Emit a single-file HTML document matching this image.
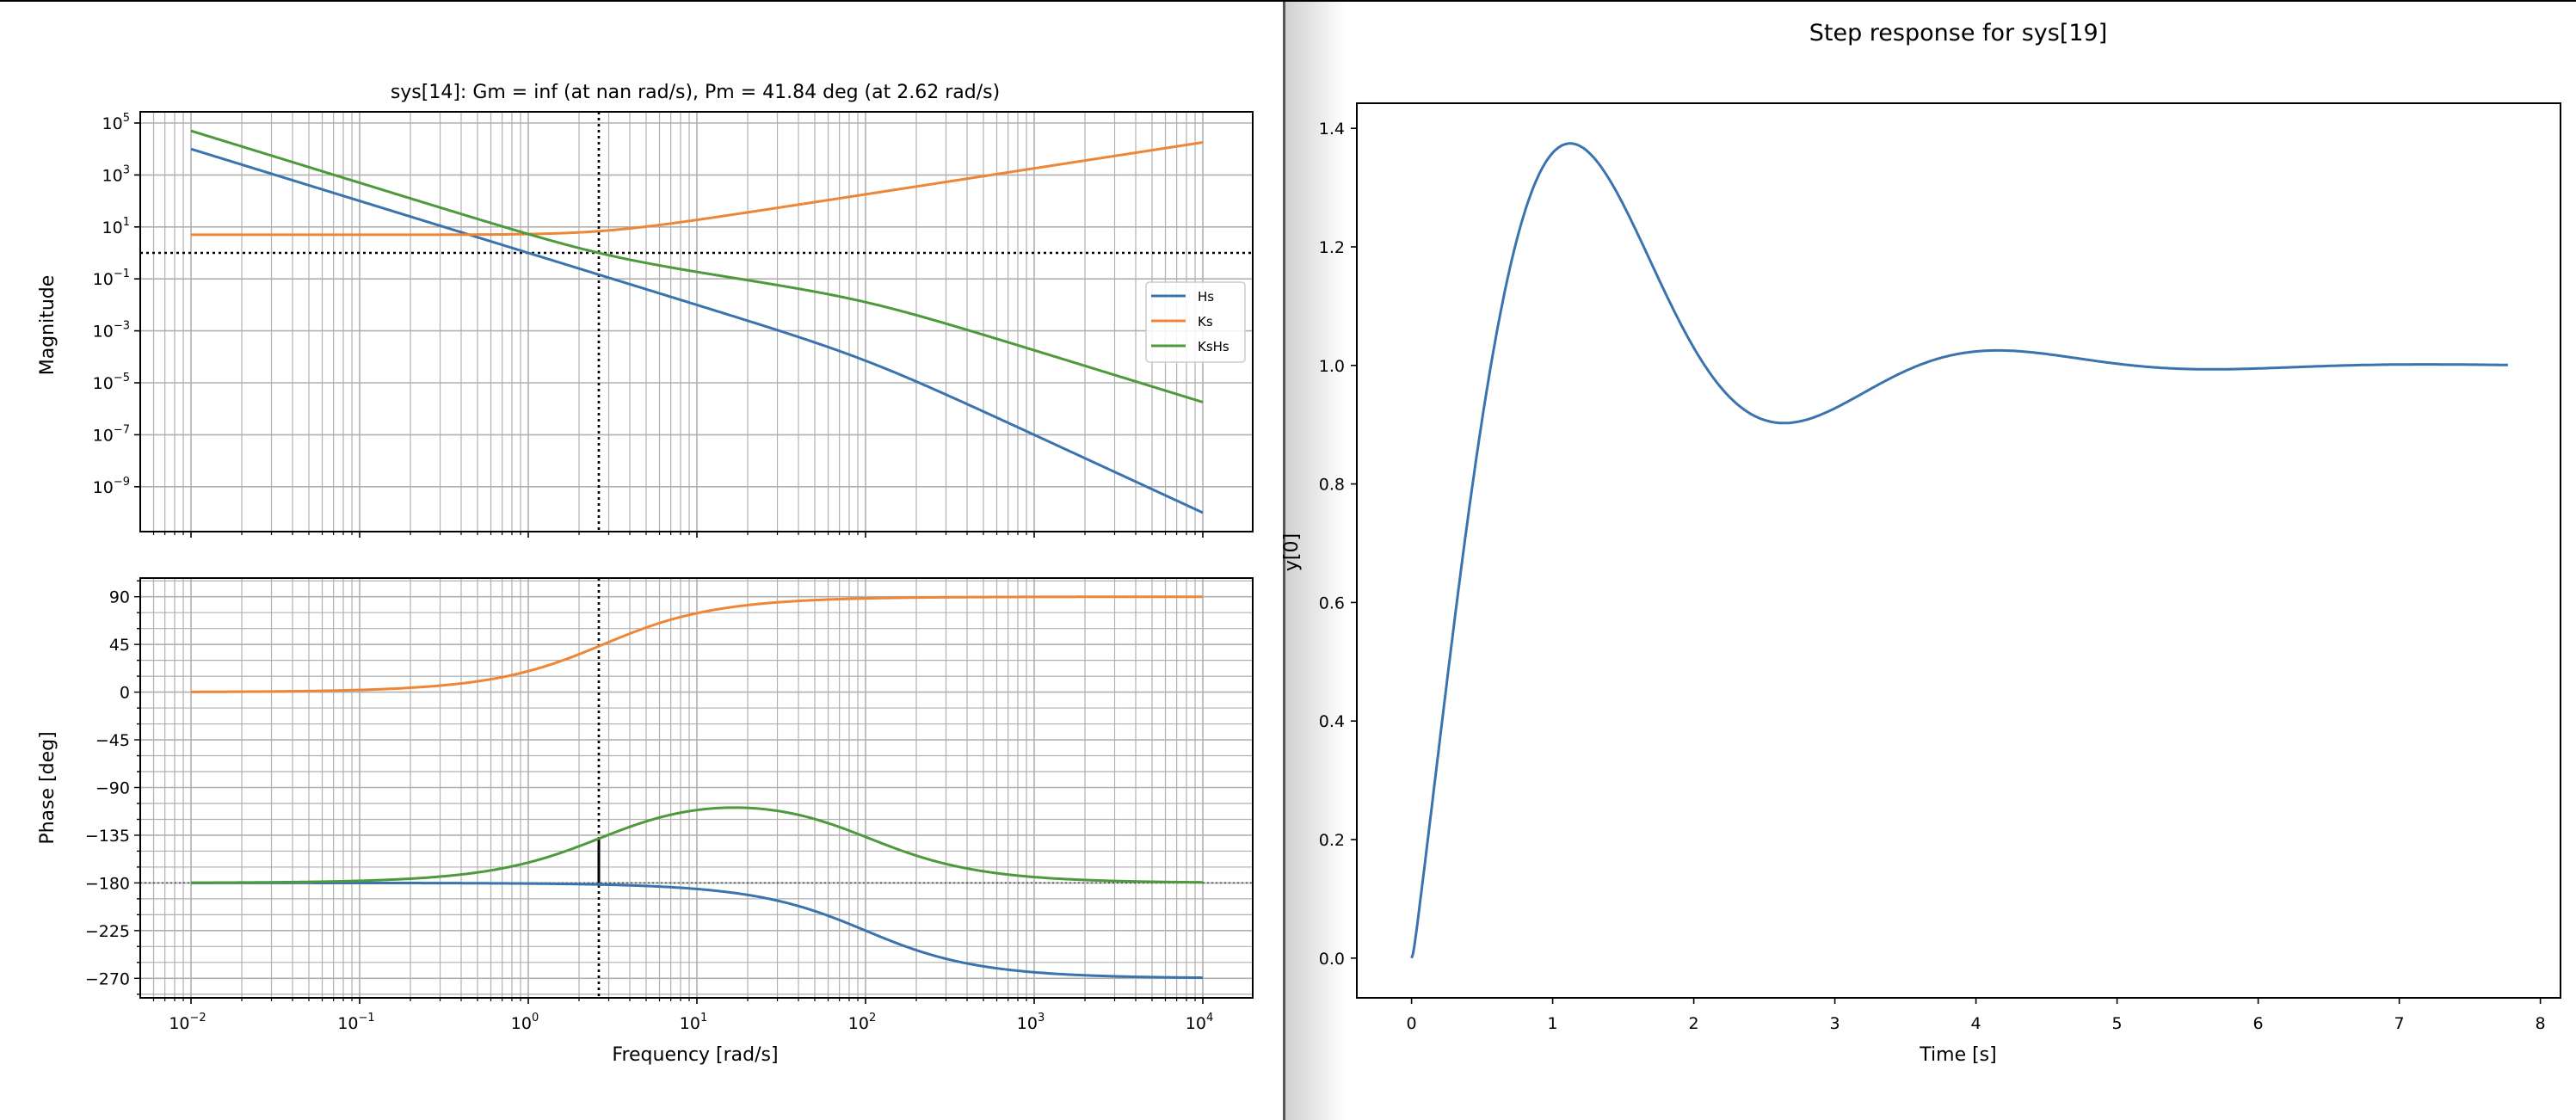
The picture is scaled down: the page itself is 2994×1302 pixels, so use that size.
<!DOCTYPE html>
<html><head><meta charset="utf-8">
<style>
html,body{margin:0;padding:0;background:#fff;}
svg{display:block;}
text{font-family:"DejaVu Sans","Liberation Sans",sans-serif;fill:#000;}
</style></head>
<body>
<svg id="s" width="2994" height="1302" viewBox="0 0 2994 1302" xmlns="http://www.w3.org/2000/svg">
<defs>
<linearGradient id="sh" x1="0" x2="1" y1="0" y2="0">
<stop offset="0" stop-color="#d0d0d0"/><stop offset="1" stop-color="#ffffff"/>
</linearGradient>
<clipPath id="cm"><rect x="163" y="130" width="1293" height="488"/></clipPath>
<clipPath id="cp"><rect x="163" y="672" width="1293" height="488"/></clipPath>
<clipPath id="cs"><rect x="1577" y="120" width="1399" height="1040"/></clipPath>
</defs>
<rect x="1494" y="0" width="70" height="1302" fill="url(#sh)"/>
<rect x="1491" y="0" width="3" height="1302" fill="#555"/>
<rect x="0" y="0" width="2994" height="2" fill="#000"/>
<g id="g"></g>
<text x="808" y="114" font-size="22" text-anchor="middle">sys[14]: Gm = inf (at nan rad/s), Pm = 41.84 deg (at 2.62 rad/s)</text>
<text x="2276" y="47" font-size="27" text-anchor="middle">Step response for sys[19]</text>
<text transform="translate(62,378) rotate(-90)" font-size="22" text-anchor="middle">Magnitude</text>
<text transform="translate(62,916) rotate(-90)" font-size="22" text-anchor="middle">Phase [deg]</text>
<text x="808" y="1233" font-size="22" text-anchor="middle">Frequency [rad/s]</text>
<text x="2276" y="1233" font-size="22" text-anchor="middle">Time [s]</text>
<text transform="translate(1508,642) rotate(-90)" font-size="22" text-anchor="middle">y[0]</text>
</svg>
<script>
var NS="http://www.w3.org/2000/svg",G=document.getElementById('g');
function el(t,a,p){var e=document.createElementNS(NS,t);for(var k in a)e.setAttribute(k,a[k]);(p||G).appendChild(e);return e;}
function line(x1,y1,x2,y2,st,w,da,cp){var a={x1:x1,y1:y1,x2:x2,y2:y2,stroke:st,'stroke-width':w};if(da)a['stroke-dasharray']=da;if(cp)a['clip-path']='url(#'+cp+')';return el('line',a);}
function txt(x,y,s,sz,anc,html){var t=el('text',{x:x,y:y,'font-size':sz,'text-anchor':anc||'middle'});if(html)t.innerHTML=s;else t.textContent=s;return t;}
function X(lw){return 222+196*(lw+2);}
var L=163,R=1456;
function YM(lm){return 143+(5-lm)*30.2;}
function YP(p){return 693.7+(90-p)*55.45/45;}
function vgrid(top,bot){
 for(var d=-3;d<=4;d++)for(var k=1;k<10;k++){var lw=d+Math.log10(k);var x=X(lw);if(x<L||x>R)continue;
  line(x,top,x,bot,'#b0b0b0',k==1?1.6:1.2);
  line(x,bot,x,bot+(k==1?7:4),'#000',k==1?1.6:1.2);}
}
vgrid(130,618);vgrid(672,1160);
for(var e=-9;e<=5;e+=2){var y=YM(e);line(L,y,R,y,'#b0b0b0',1.6);line(L-7,y,L,y,'#000',1.6);
 txt(L-12,y+7,'10<tspan dy="-9" font-size="13">'+(e<0?'\u2212'+(-e):e)+'</tspan>',19,'end',true);}
for(var p=-285;p<=105;p+=15){var y=YP(p);var maj=(p%45==0);line(L,y,R,y,'#b0b0b0',maj?1.6:1.2);line(L-(maj?7:4),y,L,y,'#000',1.4);
 if(maj)txt(L-12,y+7,(p<0?'\u2212'+(-p):''+p),19,'end');}
for(var d=-2;d<=4;d++){txt(X(d)-4,1196,'10<tspan dy="-9" font-size="13">'+(d<0?'\u2212'+(-d):d)+'</tspan>',19,'middle',true);}
var z=2.78,pp=100;
var ptsM={H:[],K:[],KH:[]},ptsP={H:[],K:[],KH:[]};
for(var i=0;i<=600;i++){var lw=-2+6*i/600,w=Math.pow(10,lw);
 var magH=1/(w*w*Math.sqrt(1+(w/pp)*(w/pp)));var phH=-180-Math.atan(w/pp)*180/Math.PI;
 var magK=5*Math.sqrt(1+(w/z)*(w/z));var phK=Math.atan(w/z)*180/Math.PI;
 var x=X(lw);
 ptsM.H.push(x+','+YM(Math.log10(magH)));ptsM.K.push(x+','+YM(Math.log10(magK)));ptsM.KH.push(x+','+YM(Math.log10(magH*magK)));
 ptsP.H.push(x+','+YP(phH));ptsP.K.push(x+','+YP(phK));ptsP.KH.push(x+','+YP(phH+phK));}
var col={H:'#3a73ad',K:'#ef8636',KH:'#4c9a3c'};
var xc=X(Math.log10(2.62));
line(L,YM(0),R,YM(0),'#000',2.6,'3,4','cm');
line(xc,130,xc,618,'#000',2.6,'3,4','cm');
line(xc,672,xc,1160,'#000',2.6,'3,4','cp');
line(L,YP(-180),R,YP(-180),'#444',1.5,'2,3','cp');
var pc=-180-Math.atan(2.62/pp)*180/Math.PI+Math.atan(2.62/z)*180/Math.PI;
line(xc,YP(-180),xc,YP(pc),'#000',3);
['H','K','KH'].forEach(function(k){
 el('polyline',{points:ptsM[k].join(' '),fill:'none',stroke:col[k],'stroke-width':3,'clip-path':'url(#cm)'});
 el('polyline',{points:ptsP[k].join(' '),fill:'none',stroke:col[k],'stroke-width':3,'clip-path':'url(#cp)'});});
el('rect',{x:L,y:130,width:R-L,height:488,fill:'none',stroke:'#000','stroke-width':2});
el('rect',{x:L,y:672,width:R-L,height:488,fill:'none',stroke:'#000','stroke-width':2});
el('rect',{x:1332,y:328,width:115,height:93,rx:4,fill:'#fff','fill-opacity':0.85,stroke:'#ccc','stroke-width':1.5});
[['H','Hs',344],['K','Ks',373],['KH','KsHs',402]].forEach(function(a){line(1338,a[2],1378,a[2],col[a[0]],3);txt(1392,a[2]+6,a[1],15,'start');});
var SX=function(t){return 1640.6+164*t;},SY=function(v){return 1113.8-v*689;};
var st=[0,0,0],dt=0.0005,pts=[];
function f(s){return [s[1],s[2],-500*s[0]-(500/z)*s[1]-100*s[2]+1];}
for(var i=0;i<=15540;i++){var t=i*dt;if(i%20==0){var y=500*st[0]+(500/z)*st[1];pts.push(SX(t).toFixed(1)+','+SY(y).toFixed(1));}
 var k1=f(st),s2=st.map(function(v,j){return v+dt/2*k1[j];}),k2=f(s2),s3=st.map(function(v,j){return v+dt/2*k2[j];}),k3=f(s3),s4=st.map(function(v,j){return v+dt*k3[j];}),k4=f(s4);
 st=st.map(function(v,j){return v+dt/6*(k1[j]+2*k2[j]+2*k3[j]+k4[j]);});}
el('polyline',{points:pts.join(' '),fill:'none',stroke:'#3a73ad','stroke-width':3,'clip-path':'url(#cs)'});
el('rect',{x:1577,y:120,width:1399,height:1040,fill:'none',stroke:'#000','stroke-width':2});
for(var t=0;t<=8;t++){var x=SX(t);line(x,1160,x,1167,'#000',1.6);txt(x,1196,''+t,19,'middle');}
for(var v=0;v<=7;v++){var y=SY(v*0.2);line(1570,y,1577,y,'#000',1.6);txt(1563,y+7,(v*0.2).toFixed(1),19,'end');}
</script>
</body></html>
